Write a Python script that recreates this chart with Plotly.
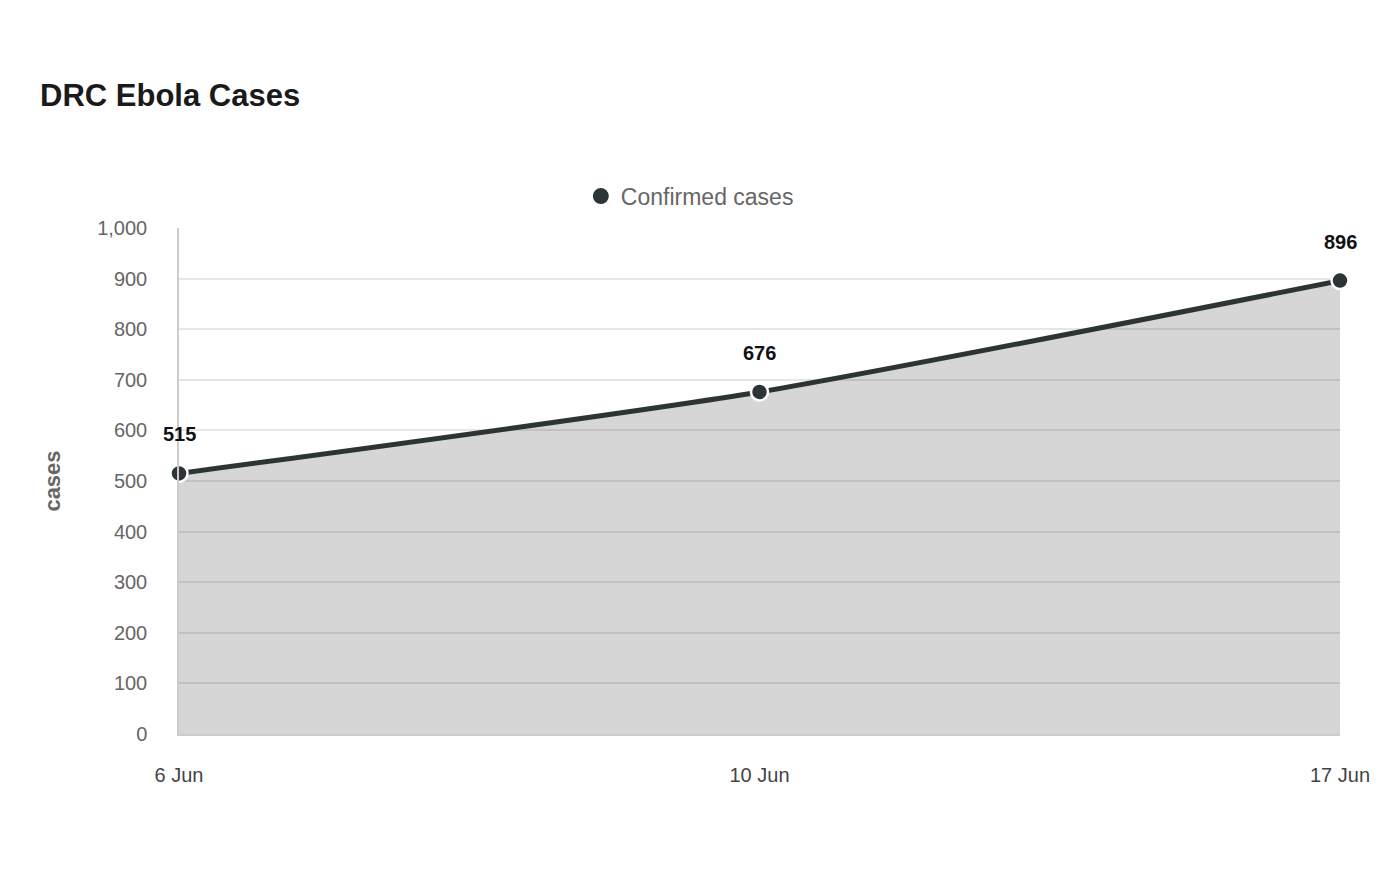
import plotly.graph_objects as go

dates = ['6 Jun', '10 Jun', '17 Jun']
confirmed = [515, 676, 896]
y_ticks = [0, 100, 200, 300, 400, 500, 600, 700, 800, 900, 1000]

xs = list(range(len(dates)))

fig = go.Figure()
fig.add_trace(go.Scatter(
    x=xs, y=confirmed,
    name='Confirmed cases',
    mode='lines+markers',
    showlegend=False,
    line=dict(color='#2d3436', width=5, shape='spline', smoothing=0.6),
    fill='tozeroy',
    fillcolor='rgba(0,0,0,0.16)',
    marker=dict(size=17, color='#2d3436', line=dict(color='white', width=2.5)),
    cliponaxis=False,
))
# legend entry: just a big dot
fig.add_trace(go.Scatter(
    x=[None], y=[None], name='Confirmed cases', mode='markers',
    marker=dict(size=30, color='#2d3436'),
))

for x, v in zip(xs, confirmed):
    fig.add_annotation(x=x, y=v, text='<b>%d</b>' % v, showarrow=False,
                       yshift=39, font=dict(size=20, color='#111111'))

fig.update_layout(
    width=1400, height=880,
    paper_bgcolor='white', plot_bgcolor='white',
    margin=dict(l=171, r=68, t=220, b=154),
    font=dict(family='Liberation Sans, Arial', color='#666666'),
    title=dict(text='<b>DRC Ebola Cases</b>', x=32 / 1400, xanchor='left',
               y=1 - 87 / 880, yanchor='middle',
               font=dict(size=31, color='#1a1a1a')),
    showlegend=True,
    legend=dict(orientation='h', x=0.44, xanchor='center', y=1.063, yanchor='middle',
                font=dict(size=23, color='#666666'), itemsizing='trace', itemwidth=30),
    xaxis=dict(range=[0, 2], tickvals=xs, ticktext=dates, showgrid=False,
               showline=True, linecolor='#cccccc', linewidth=1.5,
               ticks='', ticklabelstandoff=22, zeroline=False,
               tickfont=dict(size=20, color='#444444')),
    yaxis=dict(range=[0, 1000], tickvals=y_ticks, tickformat=',',
               showgrid=True, gridcolor='#e6e6e6', gridwidth=1.5,
               showline=True, linecolor='#cccccc', linewidth=1.5, zeroline=False,
               ticks='', ticklabelstandoff=26,
               tickfont=dict(size=20, color='#666666'),
               title=dict(text='<b>cases</b>', standoff=30,
                          font=dict(size=22, color='#666666'))),
)

fig.write_html("out.html")
